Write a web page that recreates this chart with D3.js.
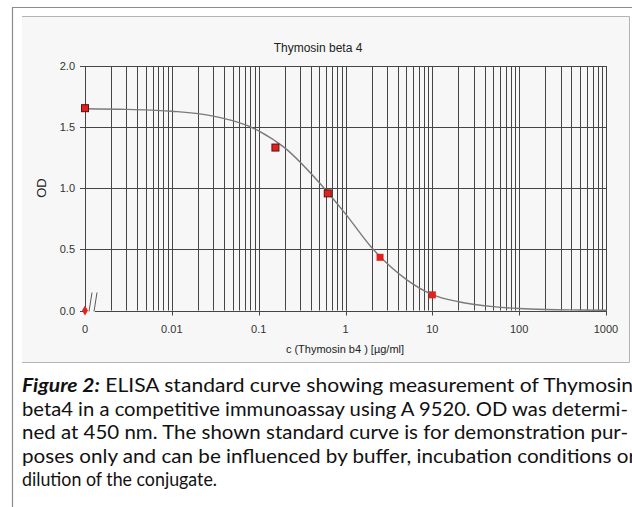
<!DOCTYPE html>
<html>
<head>
<meta charset="utf-8">
<script src="https://cdn.jsdelivr.net/npm/d3@7/dist/d3.min.js"></script>
<style>
  html, body { margin: 0; padding: 0; background: #ffffff; }
  svg { display: block; }
</style>
</head>
<body>
<svg id="chart" width="632" height="507"></svg>
<script>
// ---- data ----
const chartTitle = "Thymosin beta 4";
const xTitle = "c (Thymosin b4 ) [µg/ml]";
const yTitle = "OD";
// x tick values and labels (the first decade position stands for concentration 0)
const xTickValues = [0.001, 0.01, 0.1, 1, 10, 100, 1000];
const xTickLabels = ["0", "0.01", "0.1", "1", "10", "100", "1000"];
const yTickValues = [0.0, 0.5, 1.0, 1.5, 2.0];
const yTickLabels = ["0.0", "0.5", "1.0", "1.5", "2.0"];
// standards (concentration 0 is plotted at the 0.001 position)
const stdConc = [0.001, 0.156, 0.625, 2.5, 10];
const stdOD = [1.655, 1.333, 0.958, 0.435, 0.128];
const stdOutlined = [true, true, true, false, false];
// blank marker
const blankConc = [0.001];
const blankOD = [0.0];
// fitted standard curve
const curveConc = [0.001, 0.003, 0.01, 0.03, 0.1, 0.2, 0.5, 1, 2, 5, 10, 20, 50, 100, 200, 500, 1000];
const curveOD   = [1.650, 1.645, 1.630, 1.590, 1.470, 1.330, 1.045, 0.790, 0.515, 0.255, 0.130, 0.072, 0.032, 0.016, 0.008, 0.004, 0.002];
// caption
const captionLines = [
  [{t: "Figure 2:", b: true}, {t: " ELISA standard curve showing measurement of Thymosin"}],
  [{t: "beta4 in a competitive immunoassay using A 9520. OD was determi-"}],
  [{t: "ned at 450 nm. The shown standard curve is for demonstration pur-"}],
  [{t: "poses only and can be influenced by buffer, incubation conditions or"}],
  [{t: "dilution of the conjugate."}]
];
const captionWidths = [611, 606, 606, 614, 195];

// ---- drawing ----
const svg = d3.select("#chart");
const W = 632, H = 507;

// outer frame
svg.append("path")
  .attr("d", `M${W + 5},7.5 H12.5 V${H + 5}`)
  .attr("fill", "none").attr("stroke", "#8c8c8c").attr("stroke-width", 1.2);

// chart panel
svg.append("rect").attr("x", 22).attr("y", 16).attr("width", 608).attr("height", 346)
  .attr("fill", "#f7f7f7");
svg.append("path")
  .attr("d", "M22,16.5 H629.5 V362.5 H22")
  .attr("fill", "none").attr("stroke", "#b4b4b4").attr("stroke-width", 1);

const x = d3.scaleLog().domain([0.001, 1000]).range([85, 606]);
const y = d3.scaleLinear().domain([0, 2]).range([310.5, 66]);

const gridColor = "#454545";
const g = svg.append("g");

// vertical minor/major grid lines
const vLines = [];
for (let e = -3; e < 3; e++) {
  for (let m = 1; m <= 9; m++) {
    const v = m * Math.pow(10, e);
    if (v > 0.001) vLines.push(v);
  }
}
vLines.push(1000);
g.selectAll("line.vg").data(vLines).enter().append("line")
  .attr("x1", d => Math.round(x(d)) + 0.5).attr("x2", d => Math.round(x(d)) + 0.5)
  .attr("y1", y(2)).attr("y2", y(0))
  .attr("stroke", gridColor).attr("stroke-width", 1);

// horizontal grid lines (with left tick)
g.selectAll("line.hg").data(yTickValues.filter(v => v > 0)).enter().append("line")
  .attr("x1", x(0.001) - 5).attr("x2", x(1000) + 1)
  .attr("y1", d => Math.round(y(d)) + 0.5).attr("y2", d => Math.round(y(d)) + 0.5)
  .attr("stroke", gridColor).attr("stroke-width", 1);

// y axis line
g.append("line")
  .attr("x1", Math.round(x(0.001)) + 0.5).attr("x2", Math.round(x(0.001)) + 0.5)
  .attr("y1", y(2)).attr("y2", y(0))
  .attr("stroke", gridColor).attr("stroke-width", 1);

// broken x axis baseline
g.append("line")
  .attr("x1", x(0.001) + 10).attr("x2", x(1000) + 1)
  .attr("y1", Math.round(y(0)) + 0.5).attr("y2", Math.round(y(0)) + 0.5)
  .attr("stroke", gridColor).attr("stroke-width", 1);
g.append("line").attr("x1", x(0.001) - 5).attr("x2", x(0.001))
  .attr("y1", Math.round(y(0)) + 0.5).attr("y2", Math.round(y(0)) + 0.5)
  .attr("stroke", gridColor).attr("stroke-width", 1);
// break marks "//"
[0, 5].forEach(dx => {
  g.append("line")
    .attr("x1", x(0.001) + 4 + dx).attr("y1", y(0) + 1)
    .attr("x2", x(0.001) + 7 + dx).attr("y2", y(0) - 18)
    .attr("stroke", "#5a5a5a").attr("stroke-width", 1);
});

// x axis decade ticks below
g.selectAll("line.xt").data(xTickValues.slice(1)).enter().append("line")
  .attr("x1", d => Math.round(x(d)) + 0.5).attr("x2", d => Math.round(x(d)) + 0.5)
  .attr("y1", y(0)).attr("y2", y(0) + 5)
  .attr("stroke", gridColor).attr("stroke-width", 1);

// tick labels
const tickFont = "Liberation Sans, Arial, sans-serif";
g.selectAll("text.xl").data(xTickValues).enter().append("text")
  .attr("x", d => x(d)).attr("y", 333)
  .attr("text-anchor", "middle")
  .attr("font-family", tickFont).attr("font-size", 11).attr("fill", "#333")
  .text((d, i) => xTickLabels[i]);
g.selectAll("text.yl").data(yTickValues).enter().append("text")
  .attr("x", 75).attr("y", d => y(d) + 4)
  .attr("text-anchor", "end")
  .attr("font-family", tickFont).attr("font-size", 11).attr("fill", "#333")
  .text((d, i) => yTickLabels[i]);

// titles
svg.append("text").attr("x", 318).attr("y", 52).attr("text-anchor", "middle")
  .attr("font-family", tickFont).attr("font-size", 12).attr("fill", "#222")
  .text(chartTitle);
svg.append("text").attr("x", 345).attr("y", 353).attr("text-anchor", "middle")
  .attr("font-family", tickFont).attr("font-size", 11).attr("fill", "#222")
  .text(xTitle);
svg.append("text")
  .attr("transform", "translate(46,188) rotate(-90)")
  .attr("text-anchor", "middle")
  .attr("font-family", tickFont).attr("font-size", 13).attr("fill", "#222")
  .text(yTitle);

// fitted curve
const curveData = curveConc.map((c, i) => [c, curveOD[i]]);
g.append("path").datum(curveData)
  .attr("d", d3.line().x(d => x(d[0])).y(d => y(d[1])).curve(d3.curveMonotoneX))
  .attr("fill", "none").attr("stroke", "#7a7a7a").attr("stroke-width", 1.4);

// standards
const stdData = stdConc.map((c, i) => ({c, od: stdOD[i], o: stdOutlined[i]}));
g.selectAll("rect.std").data(stdData).enter().append("rect")
  .attr("x", d => x(d.c) - 3.5).attr("y", d => y(d.od) - 3.5)
  .attr("width", 7).attr("height", 7)
  .attr("fill", "#e0211f")
  .attr("stroke", d => d.o ? "#5a1010" : "none").attr("stroke-width", 1);

// blank marker
g.selectAll("path.blank").data(blankConc.map((c, i) => [c, blankOD[i]])).enter().append("path")
  .attr("transform", d => `translate(${x(d[0])},${y(d[1])})`)
  .attr("d", d3.symbol().type(d3.symbolDiamond).size(30))
  .attr("fill", "#e0211f");

// caption
const capFont = "Lato, 'Open Sans', sans-serif";
captionLines.forEach((line, i) => {
  const t = svg.append("text")
    .attr("x", 22).attr("y", 392 + i * 23.6)
    .attr("font-family", capFont).attr("font-size", 18.5).attr("fill", "#111");
  line.forEach(seg => {
    const s = t.append("tspan").text(seg.t);
    if (seg.b) s.attr("font-weight", "bold").attr("font-style", "italic");
  });
  if (captionWidths[i]) {
    t.attr("textLength", captionWidths[i]).attr("lengthAdjust", "spacingAndGlyphs");
  }
});
</script>
</body>
</html>
